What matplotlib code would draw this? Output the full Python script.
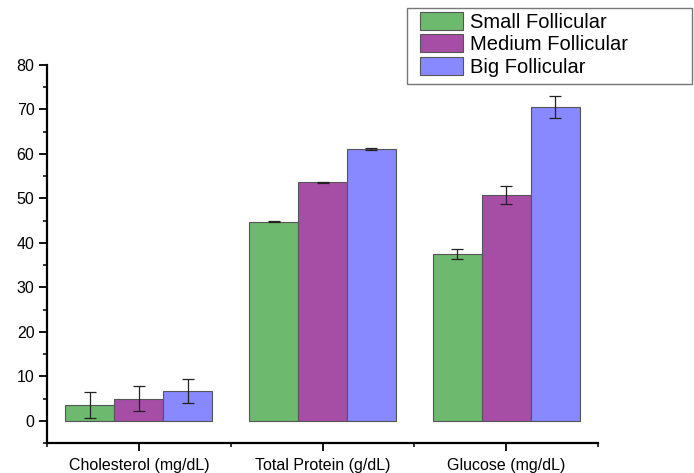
import matplotlib
matplotlib.use("Agg")
import matplotlib.pyplot as plt
import numpy as np
from matplotlib.ticker import FixedLocator
from matplotlib.patches import Rectangle

plt.rcParams['font.family'] = ['Liberation Sans', 'DejaVu Sans']

categories = ["Cholesterol (mg/dL)", "Total Protein (g/dL)", "Glucose (mg/dL)"]
series = ["Small Follicular", "Medium Follicular", "Big Follicular"]
small = [3.5, 44.8, 37.5]
small_err = [2.9, 0.15, 1.1]
medium = [5.0, 53.6, 50.8]
medium_err = [2.8, 0.15, 2.0]
big = [6.8, 61.1, 70.6]
big_err = [2.7, 0.15, 2.5]
colors = ["#6db96d", "#a64ea6", "#8888ff"]

W, H = 694, 473
fig = plt.figure(figsize=(W / 100, H / 100), dpi=100)
ax = fig.add_axes([47 / W, 1 - 443 / H, (598 - 47) / W, (443 - 65) / H])

x = np.arange(len(categories))
w = 0.8 / 3
for i, (vals, errs, c, lab) in enumerate(zip([small, medium, big], [small_err, medium_err, big_err], colors, series)):
    ax.bar(x + (i - 1) * w, vals, w, color=c, edgecolor="#555555", linewidth=0.8, label=lab,
           yerr=errs, error_kw=dict(ecolor="#222222", elinewidth=0.9, capsize=4.5, capthick=0.9))

ax.set_xlim(-0.5, 2.5)
ax.set_ylim(-5, 80)
ax.set_xticks(x)
ax.set_xticklabels(categories)
ax.xaxis.set_minor_locator(FixedLocator([-0.5, 0.5, 1.5, 2.5]))
ax.yaxis.set_major_locator(FixedLocator(list(range(0, 81, 10))))
ax.yaxis.set_minor_locator(FixedLocator(list(range(-5, 81, 10))))
ax.tick_params(axis='both', which='major', direction='out', length=5.5, width=1.3, labelsize=11.5)
ax.tick_params(axis='x', which='major', labelsize=11.5, pad=5)
ax.tick_params(axis='both', which='minor', direction='out', length=3, width=1.1)
for s in ['top', 'right']:
    ax.spines[s].set_visible(False)
for s in ['left', 'bottom']:
    ax.spines[s].set_linewidth(1.6)

leg = fig.legend(loc='upper left', bbox_to_anchor=(420 / W, 1 - 12 / H), fontsize=14.5,
                 frameon=False, handlelength=2.15, handleheight=1.0, labelspacing=0.12,
                 borderpad=0, handletextpad=0.35, borderaxespad=0)
for p in leg.get_patches():
    p.set_edgecolor("#555555")
fig.patches.append(Rectangle((407 / W, 1 - 84 / H), 285 / W, 76 / H, transform=fig.transFigure,
                             fill=False, edgecolor="#777777", linewidth=1.0))

fig.savefig("out.png", dpi=100)
